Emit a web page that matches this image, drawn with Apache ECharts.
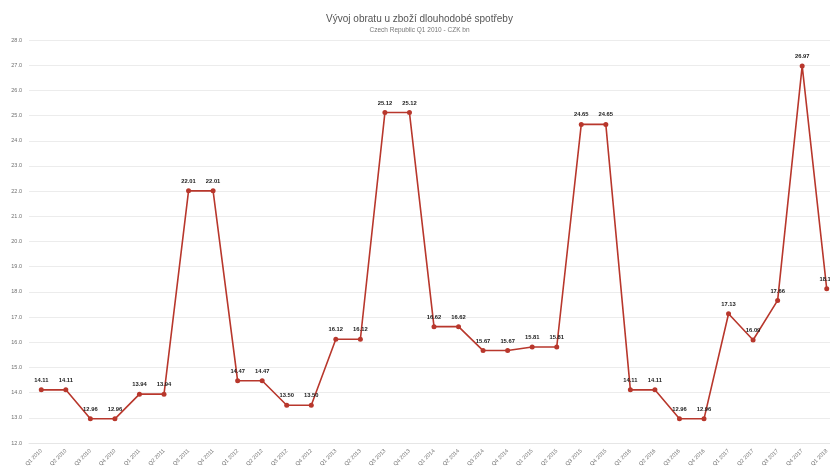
<!DOCTYPE html>
<html>
<head>
<meta charset="utf-8">
<script src="https://cdn.jsdelivr.net/npm/echarts@6/dist/echarts.min.js"></script>
<style>html,body{margin:0;padding:0;background:#fff;overflow:hidden;width:830px;height:475px}#c{width:839px;height:475px}</style>
</head>
<body>
<div id="c"></div>
<script>
const titleText = "Vývoj obratu u zboží dlouhodobé spotřeby";
const subtitleText = "Czech Republic Q1 2010 - CZK bn";
const categories = [
  "Q1 2010","Q2 2010","Q3 2010","Q4 2010",
  "Q1 2011","Q2 2011","Q3 2011","Q4 2011",
  "Q1 2012","Q2 2012","Q3 2012","Q4 2012",
  "Q1 2013","Q2 2013","Q3 2013","Q4 2013",
  "Q1 2014","Q2 2014","Q3 2014","Q4 2014",
  "Q1 2015","Q2 2015","Q3 2015","Q4 2015",
  "Q1 2016","Q2 2016","Q3 2016","Q4 2016",
  "Q1 2017","Q2 2017","Q3 2017","Q4 2017",
  "Q1 2018"
];
const values = [
  14.11,14.11,12.96,12.96,
  13.94,13.94,22.01,22.01,
  14.47,14.47,13.50,13.50,
  16.12,16.12,25.12,25.12,
  16.62,16.62,15.67,15.67,
  15.81,15.81,24.65,24.65,
  14.11,14.11,12.96,12.96,
  17.13,16.09,17.66,26.97,
  18.12
];
const yMin = 12, yMax = 28, yStep = 1;

const chart = echarts.init(document.getElementById('c'));
chart.setOption({
  animation: false,
  backgroundColor: '#fff',
  title: {
    text: titleText,
    subtext: subtitleText,
    left: 'center',
    top: 9,
    itemGap: 3,
    textStyle: { fontFamily: 'Liberation Sans, Arial', fontSize: 10, fontWeight: 'normal', color: '#555' },
    subtextStyle: { fontFamily: 'Liberation Sans, Arial', fontSize: 6.5, color: '#777' }
  },
  grid: { left: 29, right: 0, top: 40, bottom: 32, containLabel: false },
  xAxis: {
    type: 'category',
    data: categories,
    boundaryGap: true,
    axisLine: { show: true, lineStyle: { color: '#e6e6e6' } },
    axisTick: { show: false },
    axisLabel: { rotate: 45, fontSize: 5.5, color: '#6f6f6f', margin: 7, interval: 0, fontFamily: 'Liberation Sans, Arial' },
    splitLine: { show: false }
  },
  yAxis: {
    type: 'value',
    min: yMin, max: yMax, interval: yStep,
    axisLine: { show: false },
    axisTick: { show: false },
    axisLabel: { fontSize: 5.5, color: '#6f6f6f', margin: 7, formatter: v => v.toFixed(1), fontFamily: 'Liberation Sans, Arial' },
    splitLine: { lineStyle: { color: '#ececec', width: 1 } }
  },
  series: [{
    type: 'line',
    data: values,
    symbol: 'circle',
    symbolSize: 5,
    lineStyle: { color: '#b8372c', width: 1.6 },
    itemStyle: { color: '#b8372c' },
    label: {
      show: true,
      position: 'top',
      distance: 4,
      fontSize: 5.8,
      fontWeight: 'bold',
      color: '#1a1a1a',
      fontFamily: 'Liberation Sans, Arial',
      formatter: p => p.value.toFixed(2)
    }
  }]
});
</script>
</body>
</html>
